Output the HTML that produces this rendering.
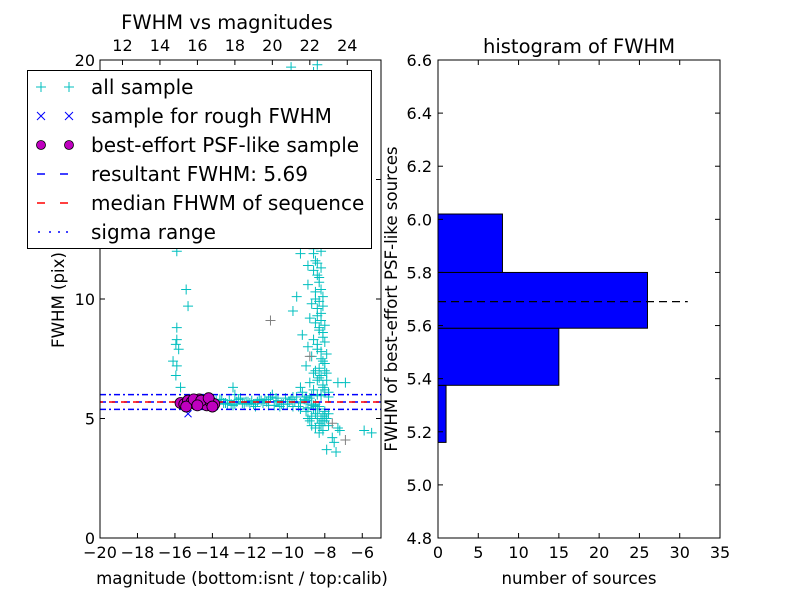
<!DOCTYPE html>
<html><head><meta charset="utf-8"><style>
body{margin:0;background:#fff;}
svg text{font-family:"DejaVu Sans","Liberation Sans",sans-serif;}
</style></head><body>
<svg id="fig" width="800" height="600" xmlns="http://www.w3.org/2000/svg"></svg>
<script>
// ---------- data ----------
const bandX=[-13.9,-13.7,-13.5,-13.3,-13.1,-12.9,-12.7,-12.5,-12.3,-12.1,-11.9,-11.7,-11.5,-11.3,-11.1,-10.9,-10.7,-10.5,-10.3,-10.1,-9.9,-9.7,-9.5,-9.3,-9.1,-8.9,-8.7,-8.5,-13.8,-13.4,-13.0,-12.6,-12.2,-11.8,-11.4,-11.0,-10.6,-10.2,-9.8,-9.4,-9.0,-8.6,-8.2,-13.6,-12.8,-12.0,-11.2,-10.4,-9.6,-8.8,-8.4,-10.8,-9.2,-11.6,-13.2,-12.4,-11.0,-10.0,-9.7,-9.3,-9.0,-8.7,-8.3,-10.6,-11.8];
const bandY=[5.7,5.6,5.8,5.65,5.75,5.55,5.7,5.85,5.6,5.7,5.75,5.5,5.8,5.65,5.7,5.9,5.55,5.75,5.6,5.85,5.7,5.5,5.9,5.65,5.8,5.45,5.95,5.6,5.75,5.65,5.6,5.8,5.7,5.6,5.75,5.55,5.85,5.6,5.8,5.5,5.9,5.55,5.95,5.8,5.6,5.65,5.8,5.5,5.7,5.85,5.4,6.0,6.1,5.7,5.6,5.65,5.8,5.6,5.9,5.4,5.75,5.6,5.5,5.7,5.6];
const plumeX=[-8.6,-8.4,-9.8,-8.8,-8.5,-8.7,-8.3,-8.9,-8.6,-8.4,-9.1,-8.7,-8.2,-8.5,-9.3,-8.6,-8.3,-8.9,-8.5,-8.1,-9.5,-8.7,-8.4,-8.2,-9.7,-8.8,-8.5,-8.3,-8.1,-9.2,-8.6,-8.0,-8.9,-8.4,-8.7,-8.2,-8.0,-9.0,-8.5,-7.9,-8.3,-8.8,-8.1,-9.3,-8.6,-7.3,-6.9,-8.4,-7.8,-8.0,-8.5,-8.2,-8.0,-8.7,-8.3,-7.8,-8.1,-7.3,-7.2,-7.6,-7.5,-7.9,-7.4,-5.9,-5.5,-9.0,-8.8,-15.9,-15.4,-15.3,-15.9,-15.9,-15.95,-15.8,-16.1,-15.9,-15.95,-15.7,-12.9,-12.8,-9.9,-8.9,-8.2,-8.6,-8.3,
 -8.4,-8.3,-8.2,-8.5,-8.3,-8.1,-8.4,-8.2,-8.0,-8.3,-8.1,-8.4,-8.2,-7.9,-8.1,-8.3,-8.0,-8.2,-7.9,-8.1,-8.4,-8.6,-8.0,-8.2,-7.8,-8.0,-8.3,-8.5,-8.1,-7.9,-8.6,-8.4,-8.2,-8.7,-8.9,-8.5,-8.3,-8.1,-7.8,-8.6,-8.4,-8.2];
const plumeY=[19.5,19.8,19.7,18,17,16,15.5,14.8,14,13.2,12.8,12.5,12,11.6,11.9,11.2,10.9,10.6,10.3,10.1,10.1,9.8,9.6,9.4,9.5,9.2,9.0,8.8,8.6,8.5,8.3,8.2,8.0,7.9,7.6,7.5,7.3,7.2,7.0,6.9,6.7,6.5,6.4,6.3,6.2,6.5,6.5,6.0,6.1,5.2,5.2,5.0,4.9,5.1,4.8,4.7,4.5,4.6,4.5,4.2,4.0,3.7,3.6,4.5,4.4,5.3,4.9,12.0,10.4,9.7,8.8,8.3,8.1,7.9,7.4,7.2,6.8,6.3,6.3,6.0,12.3,11.4,12.4,11.9,12.7,
 11.0,10.7,10.4,10.0,9.9,9.7,9.3,9.1,8.9,8.7,8.4,8.1,7.8,7.7,7.4,7.1,7.0,6.8,6.6,6.3,6.6,6.9,6.2,6.0,5.9,5.3,5.4,5.5,5.1,5.0,5.4,5.0,4.7,4.7,5.0,4.6,4.4,4.9,5.2,12.1,11.5,11.3];
const grayX=[-10.9,-7.6,-6.9,-8.8];
const grayY=[9.1,4.8,4.1,7.6];
const roughX=[-15.3,-15.0,-14.5,-14.1];
const roughY=[5.2,5.65,5.7,5.6];
const psfX=[-15.7,-15.5,-15.3,-15.1,-14.9,-14.7,-14.5,-14.3,-14.1,-13.9,-15.4,-15.0,-14.6,-14.2,-14.0,-14.8];
const psfY=[5.65,5.6,5.75,5.7,5.6,5.8,5.65,5.55,5.7,5.6,5.5,5.8,5.75,5.85,5.5,5.55];
const resultFWHM=5.69, medianFWHM=5.69, sigmaLo=5.38, sigmaHi=6.0;
const xTicksL=[-20,-18,-16,-14,-12,-10,-8,-6];
const yTicksL=[0,5,10,15,20];
const topTicks=[12,14,16,18,20,22,24];
const calibOffset=30.8;
const binEdges=[5.16,5.375,5.59,5.80,6.02];
const binCounts=[1,15,26,8];
const xTicksR=[0,5,10,15,20,25,30,35];
const yTicksR=[4.8,5.0,5.2,5.4,5.6,5.8,6.0,6.2,6.4,6.6];

// ---------- helpers ----------
const svg=document.getElementById('fig');
const NS='http://www.w3.org/2000/svg';
function mk(tag,attrs,parent){const e=document.createElementNS(NS,tag);for(const k in attrs)e.setAttribute(k,attrs[k]);(parent||svg).appendChild(e);return e;}
function txt(s,x,y,size,anchor,parent,extra){const t=mk('text',Object.assign({x:x,y:y,'font-size':size,'text-anchor':anchor||'middle',fill:'#000'},extra||{}),parent);t.textContent=s;return t;}
const fmt=v=>String(v).replace('-','\u2212');

const L={x0:100,x1:381,y0:538,y1:60};
const lx=v=>L.x0+(v-(-20))/15*(L.x1-L.x0);
const ly=v=>L.y0-(v/20)*(L.y0-L.y1);
const R={x0:438,x1:720,y0:538,y1:60};
const rx=v=>R.x0+v/35*(R.x1-R.x0);
const ry=v=>R.y0-(v-4.8)/1.8*(R.y0-R.y1);

// ---------- left plot ----------
const gL=mk('g',{});


mk('defs',{}).innerHTML='<clipPath id="cl"><rect x="100" y="60" width="281" height="478"/></clipPath>';
const pts=mk('g',{'clip-path':'url(#cl)'},gL);
function plus(x,y,c,g){return mk('path',{d:`M${x-5},${y}H${x+5}M${x},${y-5}V${y+5}`,stroke:c,'stroke-width':1,fill:'none'},g);}
const gAll=mk('g',{},pts);


for(let i=0;i<bandX.length;i++){plus(lx(bandX[i]),ly(bandY[i]),'#00bfbf',gAll);}
for(let i=0;i<plumeX.length;i++){plus(lx(plumeX[i]),ly(plumeY[i]),'#00bfbf',gAll);}
for(let i=0;i<grayX.length;i++){plus(lx(grayX[i]),ly(grayY[i]),'#808080',gAll);}
mk('line',{x1:L.x0,x2:L.x1,y1:ly(sigmaHi),y2:ly(sigmaHi),stroke:'#0000ff','stroke-width':1.5,'stroke-dasharray':'6,3,2,3'},pts);
mk('line',{x1:L.x0,x2:L.x1,y1:ly(sigmaLo),y2:ly(sigmaLo),stroke:'#0000ff','stroke-width':1.5,'stroke-dasharray':'6,3,2,3'},pts);
mk('line',{x1:L.x0,x2:L.x1,y1:ly(resultFWHM),y2:ly(resultFWHM),stroke:'#0000ff','stroke-width':1.5,'stroke-dasharray':'6,6'},pts);
mk('line',{x1:L.x0,x2:L.x1,y1:ly(medianFWHM),y2:ly(medianFWHM),stroke:'#ff0000','stroke-width':1.5,'stroke-dasharray':'6,6','stroke-dashoffset':3},pts);
const gRough=mk('g',{},pts);


for(let i=0;i<roughX.length;i++){const x=lx(roughX[i]),y=ly(roughY[i]);mk('path',{d:`M${x-3.5},${y-3.5}L${x+3.5},${y+3.5}M${x-3.5},${y+3.5}L${x+3.5},${y-3.5}`,stroke:'#0000ff','stroke-width':1},gRough);}
const gPsf=mk('g',{},pts);


for(let i=0;i<psfX.length;i++){mk('circle',{cx:lx(psfX[i]),cy:ly(psfY[i]),r:5.5,fill:'#bf00bf',stroke:'#000','stroke-width':0.8},gPsf);}
mk('rect',{x:L.x0,y:L.y1,width:L.x1-L.x0,height:L.y0-L.y1,fill:'none',stroke:'#000','stroke-width':1},gL);
const xt=mk('g',{},gL);
xTicksL.forEach(v=>{const x=lx(v);mk('line',{x1:x,x2:x,y1:L.y0,y2:L.y0-5,stroke:'#000'},xt);txt(fmt(v),x,L.y0+20,16,'middle',xt);});
const yt=mk('g',{},gL);
yTicksL.forEach(v=>{const y=ly(v);mk('line',{x1:L.x0,x2:L.x0+5,y1:y,y2:y,stroke:'#000'},yt);mk('line',{x1:L.x1,x2:L.x1-5,y1:y,y2:y,stroke:'#000'},yt);txt(String(v),L.x0-5,y+6,16,'end',yt);});
const tt=mk('g',{},gL);
topTicks.forEach(v=>{const x=lx(v-calibOffset);mk('line',{x1:x,x2:x,y1:L.y1,y2:L.y1+5,stroke:'#000'},tt);txt(String(v),x,L.y1-9,16,'middle',tt);});
const xl=txt('magnitude (bottom:isnt / top:calib)',242,584,16.6,'middle');
const yl=txt('FWHM (pix)',0,0,16.6,'middle',svg,{transform:'translate(64,300) rotate(-90)'});
const t1=txt('FWHM vs magnitudes',227,29,19.5);

// legend
const lg=mk('g',{});


mk('rect',{x:27.5,y:70.5,width:344,height:178,fill:'#fff',stroke:'#000','stroke-width':1},lg);
const labels=['all sample','sample for rough FWHM','best-effort PSF-like sample','resultant FWHM: 5.69','median FHWM of sequence','sigma range'];
labels.forEach((s,i)=>{const y=87+i*29;
 const e=mk('g',{},lg);
 if(i==0){plus(41,y,'#00bfbf',e);plus(69,y,'#00bfbf',e);}
 if(i==1){[41,69].forEach(x=>mk('path',{d:`M${x-4},${y-4}L${x+4},${y+4}M${x-4},${y+4}L${x+4},${y-4}`,stroke:'#0000ff'},e));}
 if(i==2){[41,69].forEach(x=>mk('circle',{cx:x,cy:y,r:4.5,fill:'#bf00bf',stroke:'#000','stroke-width':0.8},e));}
 if(i==3||i==4){const c=i==3?'#0000ff':'#ff0000';mk('line',{x1:37,x2:45,y1:y,y2:y,stroke:c,'stroke-width':1.5},e);mk('line',{x1:60,x2:68,y1:y,y2:y,stroke:c,'stroke-width':1.5},e);}
 if(i==5){[38,49,58,66].forEach(x=>mk('line',{x1:x,x2:x+2,y1:y,y2:y,stroke:'#0000ff','stroke-width':1.5},e));}
 txt(s,91,y+7,20,'start',e);
});

// ---------- right plot ----------
const gR=mk('g',{});


binCounts.forEach((c,i)=>{const b=mk('rect',{x:rx(0),y:ry(binEdges[i+1]),width:rx(c)-rx(0),height:ry(binEdges[i])-ry(binEdges[i+1]),fill:'#0000ff',stroke:'#000','stroke-width':1},gR);
 
 });
mk('line',{x1:rx(0),x2:rx(31),y1:ry(resultFWHM),y2:ry(resultFWHM),stroke:'#000','stroke-width':1.2,'stroke-dasharray':'8,5'},gR);
mk('rect',{x:R.x0,y:R.y1,width:R.x1-R.x0,height:R.y0-R.y1,fill:'none',stroke:'#000','stroke-width':1},gR);
const xr=mk('g',{},gR);
xTicksR.forEach(v=>{const x=rx(v);mk('line',{x1:x,x2:x,y1:R.y0,y2:R.y0-5,stroke:'#000'},xr);mk('line',{x1:x,x2:x,y1:R.y1,y2:R.y1+5,stroke:'#000'},xr);txt(String(v),x,R.y0+20,16,'middle',xr);});
const yr=mk('g',{},gR);
yTicksR.forEach(v=>{const y=ry(v);mk('line',{x1:R.x0,x2:R.x0+5,y1:y,y2:y,stroke:'#000'},yr);mk('line',{x1:R.x1,x2:R.x1-5,y1:y,y2:y,stroke:'#000'},yr);txt(v.toFixed(1),R.x0-6,y+6,16,'end',yr);});
const xl2=txt('number of sources',579,584,16.6);
const yl2=txt('FWHM of best-effort PSF-like sources',0,0,16.6,'middle',svg,{transform:'translate(397,299) rotate(-90)'});
const t2=txt('histogram of FWHM',579,53,19.5);
</script>
</body></html>
